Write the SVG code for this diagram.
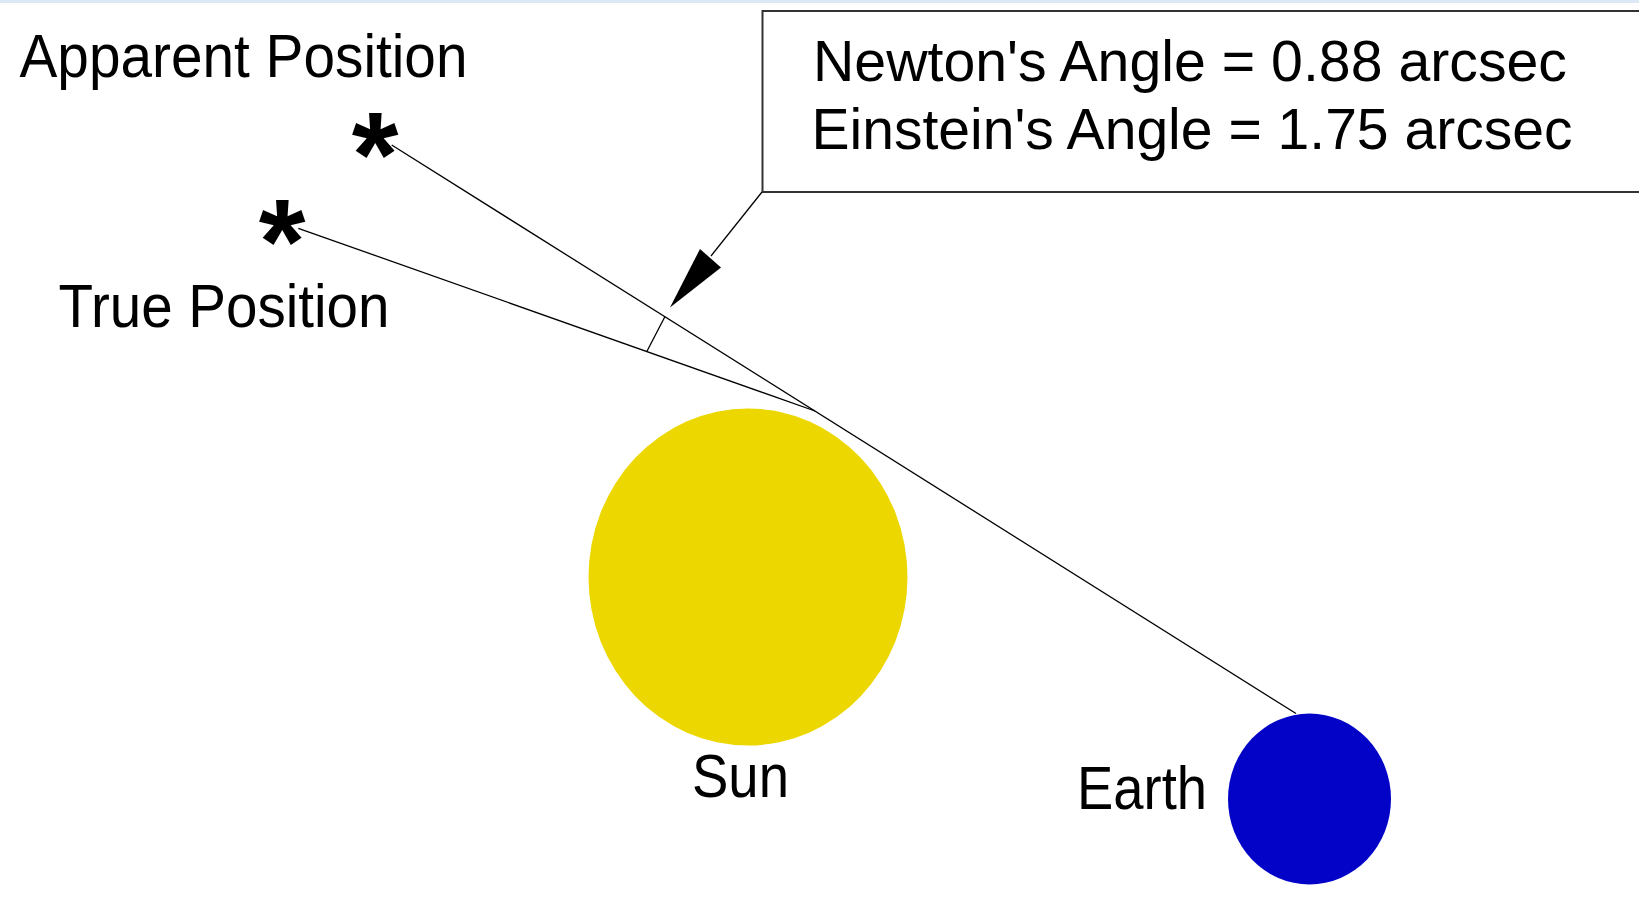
<svg xmlns="http://www.w3.org/2000/svg" width="1639" height="902" viewBox="0 0 1639 902">
<style>
.lbl{font-family:"Liberation Sans",Arial,sans-serif;font-size:62px;fill:#000}
.box{font-family:"Liberation Sans",Arial,sans-serif;font-size:57px;fill:#000}
.star{font-family:"Liberation Sans",Arial,sans-serif;font-size:120px;font-weight:bold;fill:#000}
.ln{stroke:#000;stroke-width:1.3;fill:none}
</style>
<rect width="1639" height="902" fill="#fff"/>
<rect width="1639" height="3" fill="#dce8f5"/>
<g id="callout">
<rect x="762.5" y="11" width="1000" height="181" fill="#fff" stroke="#333" stroke-width="2"/>
<text class="box" x="813" y="80.5" textLength="754" lengthAdjust="spacingAndGlyphs">Newton's Angle = 0.88 arcsec</text>
<text class="box" x="811.5" y="149" textLength="761" lengthAdjust="spacingAndGlyphs">Einstein's Angle = 1.75 arcsec</text>
</g>
<g id="apparent">
<text class="lbl" x="19.5" y="76.5" font-size="64" textLength="448" lengthAdjust="spacingAndGlyphs">Apparent Position</text>
<text class="star" x="375" y="196" text-anchor="middle">*</text>
</g>
<g id="true">
<text class="lbl" x="58.5" y="327" textLength="331" lengthAdjust="spacingAndGlyphs">True Position</text>
<text class="star" x="282" y="283" text-anchor="middle">*</text>
</g>
<g id="sun">
<ellipse cx="748" cy="577" rx="159.5" ry="168.5" fill="#ecd800"/>
<text class="lbl" x="692" y="797" font-size="60" textLength="97" lengthAdjust="spacingAndGlyphs">Sun</text>
</g>
<g id="earth">
<ellipse cx="1309.5" cy="799" rx="81.5" ry="85.5" fill="#0303c8"/>
<text class="lbl" x="1077" y="809" textLength="130" lengthAdjust="spacingAndGlyphs">Earth</text>
</g>
<g id="connectors">
<line class="ln" x1="391.7" y1="145" x2="1296" y2="713.5"/>
<line class="ln" x1="298.3" y1="228.3" x2="815" y2="411"/>
<line class="ln" x1="665" y1="316.5" x2="646.7" y2="351.8"/>
<line class="ln" x1="762" y1="192" x2="711" y2="256"/>
<polygon points="700,249 721,267.5 670,307.5" fill="#000"/>
</g>
</svg>
